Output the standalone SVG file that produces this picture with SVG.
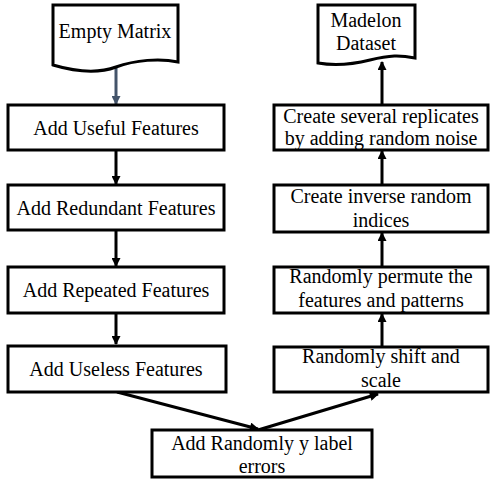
<svg xmlns="http://www.w3.org/2000/svg" width="495" height="486" viewBox="0 0 495 486">
<defs>
<style>
.box{fill:#fff;stroke:#000;stroke-width:3}
.t{font-size:20px;fill:#000;text-anchor:middle}
.c{fill:none;stroke:#000;stroke-width:3}
</style>
<marker id="ah" viewBox="0 0 10 10" refX="9" refY="5" markerWidth="10" markerHeight="9" markerUnits="userSpaceOnUse" orient="auto">
<path d="M0,0 L10,5 L0,10 Z" fill="#000"/>
</marker>
<marker id="ahb" viewBox="0 0 10 10" refX="9" refY="5" markerWidth="10" markerHeight="9" markerUnits="userSpaceOnUse" orient="auto">
<path d="M0,0 L10,5 L0,10 Z" fill="#44546A"/>
</marker>
</defs>
<rect width="495" height="486" fill="#fff"/>
<g id="connectors">
<line x1="116" y1="68" x2="116" y2="104" stroke="#44546A" stroke-width="3" marker-end="url(#ahb)"/>
<line class="c" x1="116" y1="150" x2="116" y2="184" marker-end="url(#ah)"/>
<line class="c" x1="116" y1="230" x2="116" y2="266" marker-end="url(#ah)"/>
<line class="c" x1="116" y1="313" x2="116" y2="344" marker-end="url(#ah)"/>
<line class="c" x1="117" y1="392" x2="258" y2="429" marker-end="url(#ah)"/>
<line class="c" x1="258" y1="430" x2="378" y2="394" marker-end="url(#ah)"/>
<line class="c" x1="382" y1="347" x2="382" y2="314" marker-end="url(#ah)"/>
<line class="c" x1="382" y1="267" x2="382" y2="233" marker-end="url(#ah)"/>
<line class="c" x1="382" y1="185" x2="382" y2="151" marker-end="url(#ah)"/>
<line class="c" x1="382" y1="105" x2="382" y2="62" marker-end="url(#ah)"/>
</g>
<g font-family="'Liberation Serif', 'DejaVu Serif', serif">
<g id="empty-matrix">
<path class="box" d="M53,5 H178 V62 C160,58 135,60 116,67 C100,73 80,73 53,65 Z"/>
<text class="t" x="115" y="38">Empty Matrix</text>
</g>
<g id="madelon">
<path class="box" d="M318,5 H415 V58 C400,55 390,55 370,60 C350,65 335,66 318,63 Z"/>
<text class="t" x="366" y="27">Madelon</text>
<text class="t" x="366" y="50">Dataset</text>
</g>
<g id="useful">
<rect class="box" x="8" y="105" width="216" height="45"/>
<text class="t" x="116" y="135">Add Useful Features</text>
</g>
<g id="redundant">
<rect class="box" x="8" y="185" width="216" height="45"/>
<text class="t" x="116" y="215">Add Redundant Features</text>
</g>
<g id="repeated">
<rect class="box" x="8" y="267" width="216" height="46"/>
<text class="t" x="116" y="297">Add Repeated Features</text>
</g>
<g id="useless">
<rect class="box" x="8" y="346" width="218" height="46"/>
<text class="t" x="116" y="376">Add Useless Features</text>
</g>
<g id="label-errors">
<rect class="box" x="152" y="430" width="220" height="47"/>
<text class="t" x="262" y="450">Add Randomly y label</text>
<text class="t" x="262" y="473">errors</text>
</g>
<g id="shift">
<rect class="box" x="274" y="347" width="214" height="45"/>
<text class="t" x="381" y="363">Randomly shift and</text>
<text class="t" x="381" y="387">scale</text>
</g>
<g id="permute">
<rect class="box" x="274" y="267" width="214" height="46"/>
<text class="t" x="381" y="283">Randomly permute the</text>
<text class="t" x="381" y="307">features and patterns</text>
</g>
<g id="inverse">
<rect class="box" x="274" y="185" width="214" height="47"/>
<text class="t" x="381" y="203">Create inverse random</text>
<text class="t" x="381" y="227">indices</text>
</g>
<g id="replicates">
<rect class="box" x="274" y="105" width="214" height="45"/>
<text class="t" x="381" y="123">Create several replicates</text>
<text class="t" x="381" y="145">by adding random noise</text>
</g>
</g>
</svg>
